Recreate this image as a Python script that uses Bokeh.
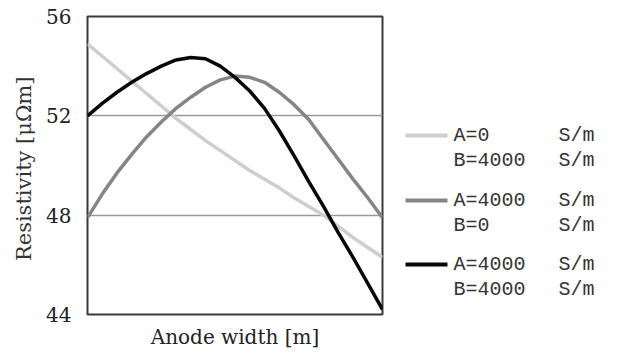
from bokeh.plotting import figure
from bokeh.layouts import row
from bokeh.models import Range1d, FixedTicker
from bokeh.core.properties import value
from bokeh.embed import file_html
from bokeh.resources import INLINE

# Data (x is relative anode width, 0..1; y is resistivity in µΩm)
x = [0.0, 0.05, 0.1, 0.15, 0.2, 0.25, 0.3, 0.35, 0.4, 0.45, 0.5,
     0.55, 0.6, 0.65, 0.7, 0.75, 0.8, 0.85, 0.9, 0.95, 1.0]
a0_b4000 = [54.9, 54.4, 53.9, 53.4, 52.9, 52.4, 51.9, 51.45, 51.0, 50.6, 50.2,
            49.8, 49.45, 49.1, 48.7, 48.35, 48.0, 47.55, 47.1, 46.7, 46.3]
a4000_b0 = [47.9, 48.85, 49.7, 50.45, 51.15, 51.75, 52.3, 52.75, 53.15, 53.45, 53.6,
            53.55, 53.35, 52.95, 52.45, 51.85, 51.05, 50.25, 49.45, 48.7, 47.9]
a4000_b4000 = [52.0, 52.5, 52.95, 53.35, 53.7, 54.0, 54.25, 54.35, 54.3, 54.0, 53.55,
               53.0, 52.3, 51.4, 50.4, 49.35, 48.35, 47.3, 46.3, 45.25, 44.2]

y_ticks = [44, 48, 52, 56]
grid_ticks = [48, 52]

series_names_1 = ["A=0", "A=4000", "A=4000"]
series_names_2 = ["B=4000", "B=0", "B=4000"]
unit = "S/m"
colors = ["#cecece", "#858585", "#080808"]

SERIF = "DejaVu Serif"
MONO = "Liberation Mono"

p = figure(width=390, height=356, x_range=Range1d(0, 1), y_range=Range1d(44, 56),
           output_backend="svg", toolbar_location=None,
           min_border_left=87, min_border_right=8, min_border_top=16, min_border_bottom=42)
p.background_fill_color = "white"
p.border_fill_color = "white"
p.outline_line_color = "#3a3a3a"
p.outline_line_width = 2

p.yaxis.ticker = FixedTicker(ticks=y_ticks)
p.yaxis.major_tick_line_color = None
p.yaxis.minor_tick_line_color = None
p.yaxis.axis_line_color = None
p.yaxis.major_label_text_font = SERIF
p.yaxis.major_label_text_font_size = "20px"
p.yaxis.major_label_text_color = "#222222"
p.yaxis.major_label_standoff = 10
p.yaxis.axis_label = "Resistivity  [μΩm]"
p.yaxis.axis_label_text_font = SERIF
p.yaxis.axis_label_text_font_style = "normal"
p.yaxis.axis_label_text_font_size = "21px"
p.yaxis.axis_label_text_color = "#333333"
p.yaxis.axis_label_standoff = 7

p.xaxis.ticker = FixedTicker(ticks=[])
p.xaxis.axis_line_color = None
p.xaxis.major_tick_line_color = None
p.xaxis.minor_tick_line_color = None
p.xaxis.axis_label = "Anode width [m]"
p.xaxis.axis_label_text_font = SERIF
p.xaxis.axis_label_text_font_style = "normal"
p.xaxis.axis_label_text_font_size = "20px"
p.xaxis.axis_label_text_color = "#222222"
p.xaxis.axis_label_standoff = 10

p.xgrid.visible = False
p.ygrid.ticker = FixedTicker(ticks=grid_ticks)
p.ygrid.grid_line_color = "#9a9a9a"
p.ygrid.grid_line_width = 1.5

for ys, c in zip([a0_b4000, a4000_b0, a4000_b4000], colors):
    p.line(x, ys, line_color=c, line_width=3.5, line_join="round")

# Legend panel (its frame is aligned with the main frame: canvas y 16..314)
lg = figure(width=235, height=356, x_range=Range1d(0, 235), y_range=Range1d(314, 16),
            output_backend="svg", toolbar_location=None,
            x_axis_type=None, y_axis_type=None,
            min_border_left=0, min_border_right=0, min_border_top=16, min_border_bottom=42)
lg.outline_line_color = None
lg.grid.visible = False
lg.background_fill_color = "white"
lg.border_fill_color = "white"

row_y = [135, 200, 264]
line_gap = 25
for i in range(3):
    y0 = row_y[i]
    lg.line([15, 57], [y0, y0], line_color=colors[i], line_width=4)
    lg.text([63, 63], [y0, y0 + line_gap], text=[series_names_1[i], series_names_2[i]],
            text_font=value(MONO), text_font_size="20px", text_color="#333333",
            text_baseline="middle", text_align="left")
    lg.text([168, 168], [y0, y0 + line_gap], text=[unit, unit],
            text_font=value(MONO), text_font_size="20px", text_color="#333333",
            text_baseline="middle", text_align="left")

layout = row(p, lg)
open("out.html", "w").write(file_html(layout, INLINE))
